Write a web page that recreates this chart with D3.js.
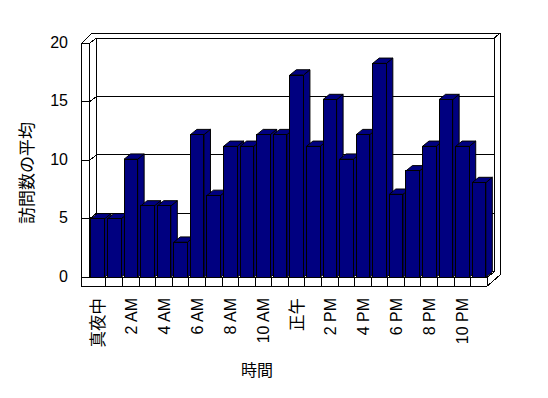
<!DOCTYPE html>
<html>
<head>
<meta charset="utf-8">
<script src="https://cdn.jsdelivr.net/npm/d3@7"></script>
<style>
  body { margin: 0; background: #fff; }
  text { font-family: "Liberation Sans", "Noto Sans CJK JP", sans-serif; }
</style>
</head>
<body>
<div class="chart"></div>
<script>
// 時間ごとの訪問数の平均
const hours = ['真夜中', '1 AM', '2 AM', '3 AM', '4 AM', '5 AM', '6 AM', '7 AM', '8 AM', '9 AM', '10 AM', '11 AM',
    '正午', '1 PM', '2 PM', '3 PM', '4 PM', '5 PM', '6 PM', '7 PM', '8 PM', '9 PM', '10 PM', '11 PM'];
const visits = [5, 5, 10.1, 6.1, 6.1, 3, 12.2, 7, 11.2, 11.2, 12.2, 12.2,
    17.3, 11.2, 15.2, 10.1, 12.2, 18.3, 7.1, 9.1, 11.2, 15.2, 11.2, 8.1];
const yTicks = [0, 5, 10, 15, 20];

const width = 548;
const height = 398;
const navy = '#000080';

const svg = d3.select('.chart')
    .append('svg')
    .attr('width', width)
    .attr('height', height);

const xScale = d3.scaleBand()
    .domain(hours)
    .range([89.4, 487.3])
    .paddingInner(0.18)
    .paddingOuter(0.09);

const yScale = d3.scaleLinear()
    .domain([0, 20])
    .range([277.3, 43.5]);

// depth of walls / bars
const wall = {x: 7, y: -5.5};
const depth = {x: 6.5, y: -5.3};
const x0 = 89.4, x1 = 487.3;   // floor front
const outerL = 81.3, outerR = 500, outerT = 33, floorB = 286;
const yb = v => yScale(v) + wall.y;

const frame = svg.append('g')
    .attr('fill', 'none')
    .attr('stroke', 'black')
    .attr('shape-rendering', 'crispEdges');

// outer outline
frame.append('path')
    .attr('d', `M${outerL},${floorB} V${yScale(20)} L${outerL + 10.5},${outerT} H${outerR} V${floorB - 11} L${x1},${floorB} Z`);

// left wall front face + back wall edges
frame.append('path')
    .attr('d', `M${x0},${yScale(0)} V${yScale(20)} H${outerL}`
        + ` M${x0},${yScale(20)} L${x0 + wall.x},${yb(20)} H${x1 + wall.x} L${outerR},${outerT}`
        + ` M${x0 + wall.x},${yb(20)} V${yb(0)} H${x1 + wall.x} V${yb(20)}`
        + ` M${x0},${yScale(0)} L${x0 + wall.x},${yb(0)}`
        + ` M${x1},${yScale(0)} L${x1 + wall.x},${yb(0)}`
        + ` M${outerL},${yScale(0)} H${x1} V${floorB}`);

// gridlines on back wall and ticks on left wall
yTicks.filter(v => v > 0 && v < 20).forEach(v => {
    frame.append('path')
        .attr('d', `M${outerL},${yScale(v)} H${x0} L${x0 + wall.x},${yb(v)} H${x1 + wall.x}`);
});

// tick marks on the floor front face
hours.forEach((d, i) => {
    if (i === 0) return;
    const xt = xScale(d) - xScale.step() * xScale.paddingInner() / 2;
    frame.append('line')
        .attr('x1', xt).attr('x2', xt)
        .attr('y1', yScale(0)).attr('y2', floorB);
});

// bars, left to right
const bw = xScale.bandwidth();
const bars = svg.selectAll('.bar')
    .data(visits)
    .enter()
    .append('g')
    .attr('class', 'bar')
    .attr('fill', navy)
    .attr('stroke', 'black');

bars.append('polygon')
    .attr('points', (d, i) => {
        const x = xScale(hours[i]), y = yScale(d);
        return [[x + bw, y], [x + bw + depth.x, y + depth.y], [x + bw + depth.x, yScale(0) + depth.y], [x + bw, yScale(0)]].join(' ');
    });

bars.append('polygon')
    .attr('points', (d, i) => {
        const x = xScale(hours[i]), y = yScale(d);
        return [[x, y], [x + bw, y], [x + bw + depth.x, y + depth.y], [x + depth.x, y + depth.y]].join(' ');
    });

bars.append('rect')
    .attr('x', (d, i) => xScale(hours[i]))
    .attr('y', d => yScale(d))
    .attr('width', bw)
    .attr('height', d => yScale(0) - yScale(d))
    .attr('shape-rendering', 'crispEdges');

// y tick labels
svg.selectAll('.ylabel')
    .data(yTicks)
    .enter()
    .append('text')
    .attr('x', 68)
    .attr('y', d => yScale(d) - 1)
    .attr('text-anchor', 'end')
    .attr('dominant-baseline', 'central')
    .attr('font-size', 16)
    .text(d => d);

// x tick labels, every other hour
svg.selectAll('.xlabel')
    .data(hours.filter((d, i) => i % 2 === 0))
    .enter()
    .append('text')
    .attr('transform', d => `translate(${xScale(d) + bw / 2 + 0.5},298) rotate(-90)`)
    .attr('text-anchor', 'end')
    .attr('dominant-baseline', 'central')
    .attr('font-size', d => /[A-Z]/.test(d) ? 16 : 16.5)
    .text(d => d);

// axis titles
svg.append('text')
    .attr('transform', 'translate(27,173) rotate(-90)')
    .attr('text-anchor', 'middle')
    .attr('dominant-baseline', 'central')
    .attr('font-size', 17)
    .text('訪問数の平均');

svg.append('text')
    .attr('x', 257)
    .attr('y', 370)
    .attr('text-anchor', 'middle')
    .attr('dominant-baseline', 'central')
    .attr('font-size', 16)
    .text('時間');
</script>
</body>
</html>
